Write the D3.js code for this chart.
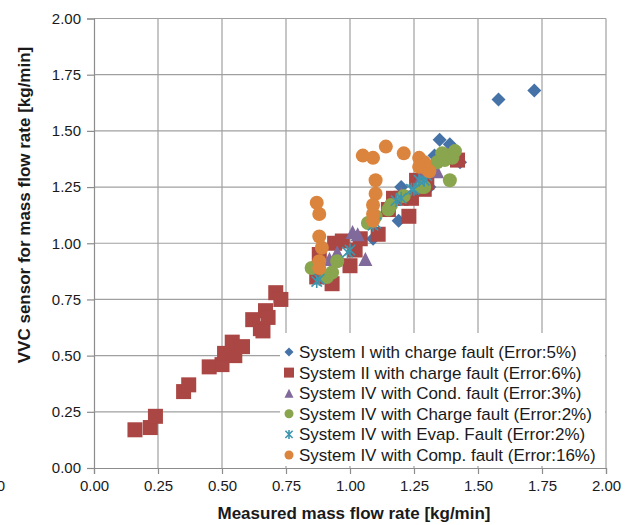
<!DOCTYPE html>
<html>
<head>
<meta charset="utf-8">
<script src="https://cdn.jsdelivr.net/npm/d3@7"></script>
<style>
  body { margin: 0; background: #fff; }
  svg { display: block; font-family: "Liberation Sans", Arial, sans-serif; }
</style>
</head>
<body>
<div id="chart"></div>
<script>
// values, [measured, vvc] in kg/min
const sys1Charge = [
  [0.87, 0.86], [1.09, 1.02], [1.19, 1.10], [1.20, 1.25], [1.31, 1.25], [1.28, 1.33],
  [1.33, 1.39], [1.35, 1.46], [1.39, 1.44], [1.40, 1.41], [1.43, 1.36], [1.37, 1.38],
  [1.58, 1.64], [1.72, 1.68]
];
const sys2Charge = [
  [0.16, 0.17], [0.22, 0.18], [0.24, 0.23], [0.35, 0.34], [0.37, 0.37], [0.45, 0.45],
  [0.50, 0.46], [0.51, 0.51], [0.54, 0.56], [0.55, 0.50], [0.58, 0.54], [0.62, 0.66],
  [0.65, 0.62], [0.66, 0.61], [0.67, 0.70], [0.68, 0.67], [0.71, 0.78], [0.73, 0.75],
  [0.87, 0.85], [0.88, 0.95], [0.93, 0.82], [0.94, 1.00], [0.97, 1.01], [1.00, 0.90],
  [1.02, 0.97], [1.04, 1.02], [1.11, 1.04], [1.15, 1.15], [1.17, 1.20], [1.20, 1.20],
  [1.23, 1.12], [1.24, 1.20], [1.26, 1.28], [1.29, 1.24], [1.30, 1.27], [1.42, 1.37]
];
const sys4Cond = [
  [0.92, 0.93], [0.95, 0.96], [1.01, 1.05], [1.03, 1.04], [1.06, 0.93],
  [1.20, 1.22], [1.28, 1.30], [1.34, 1.32], [1.38, 1.40]
];
const sys4ChargeIV = [
  [0.85, 0.89], [0.91, 0.85], [0.93, 0.87], [0.95, 0.92], [1.07, 1.09], [1.10, 1.12],
  [1.15, 1.15], [1.16, 1.17], [1.21, 1.21], [1.28, 1.25], [1.29, 1.25], [1.34, 1.36],
  [1.36, 1.40], [1.37, 1.37], [1.38, 1.39], [1.40, 1.38], [1.41, 1.41], [1.39, 1.28]
];
const sys4Evap = [
  [0.87, 0.83], [0.88, 0.84], [0.99, 0.96], [1.00, 0.97], [1.09, 1.08], [1.10, 1.09],
  [1.18, 1.19], [1.20, 1.20], [1.24, 1.24], [1.25, 1.24], [1.27, 1.28], [1.29, 1.28],
  [1.30, 1.30]
];
const sys4Comp = [
  [0.87, 1.18], [0.88, 1.13], [0.88, 1.03], [0.89, 0.98], [0.88, 0.92], [0.88, 0.89],
  [1.05, 1.39], [1.09, 1.38], [1.14, 1.43], [1.21, 1.40], [1.27, 1.38], [1.29, 1.36],
  [1.30, 1.33], [1.31, 1.32], [1.27, 1.34], [1.10, 1.28], [1.10, 1.22], [1.09, 1.17],
  [1.09, 1.13], [1.09, 1.10]
];
const seriesNames = [
  'System I with charge fault (Error:5%)',
  'System II with charge fault (Error:6%)',
  'System IV with Cond. fault (Error:3%)',
  'System IV with Charge fault (Error:2%)',
  'System IV with Evap. Fault (Error:2%)',
  'System IV with Comp. fault (Error:16%)'
];
const tickValues = [0, 0.25, 0.5, 0.75, 1, 1.25, 1.5, 1.75, 2];

const seriesData = [sys1Charge, sys2Charge, sys4Cond, sys4ChargeIV, sys4Evap, sys4Comp];
const colors = ['#4572A7', '#AA4643', '#80699B', '#89A54E', '#3D96AE', '#DB843D'];
const shapes = ['diamond', 'square', 'triangle', 'circle', 'star', 'circle'];

const W = 634, H = 525;
const margin = { top: 18.5, right: 28, bottom: 57, left: 94 };
const width = W - margin.left - margin.right;
const height = H - margin.top - margin.bottom;

const svg = d3.select('#chart').append('svg')
  .attr('width', W).attr('height', H);
svg.append('rect').attr('width', W).attr('height', H).attr('fill', '#fff');

const g = svg.append('g').attr('transform', `translate(${margin.left},${margin.top})`);

const x = d3.scaleLinear().domain([0, 2]).range([0, width]);
const y = d3.scaleLinear().domain([0, 2]).range([height, 0]);

// grid
g.append('g').selectAll('line').data(tickValues.slice(1)).enter().append('line')
  .attr('x1', d => x(d)).attr('x2', d => x(d))
  .attr('y1', 0).attr('y2', height)
  .attr('stroke', '#a0a0a0').attr('stroke-width', 1.2);
g.append('g').selectAll('line').data(tickValues.slice(1)).enter().append('line')
  .attr('x1', 0).attr('x2', width)
  .attr('y1', d => y(d)).attr('y2', d => y(d))
  .attr('stroke', '#a0a0a0').attr('stroke-width', 1.2);

// axes
const fmt = d3.format('.2f');
const xAxis = g.append('g').attr('transform', `translate(0,${height})`)
  .call(d3.axisBottom(x).tickValues(tickValues).tickFormat(fmt).tickSize(6).tickPadding(6));
const yAxis = g.append('g')
  .call(d3.axisLeft(y).tickValues(tickValues).tickFormat(fmt).tickSize(7).tickPadding(6));
[xAxis, yAxis].forEach(a => {
  a.select('.domain').attr('stroke', '#8c8c8c').attr('stroke-width', 1.2);
  a.selectAll('.tick line').attr('stroke', '#8c8c8c').attr('stroke-width', 1.2);
  a.selectAll('.tick text').attr('fill', '#1a1a1a').style('font-size', '15px');
});

svg.append('text')
  .attr('x', 354).attr('y', 519)
  .attr('text-anchor', 'middle')
  .style('font-size', '17px').style('font-weight', 'bold').attr('fill', '#1a1a1a')
  .text('Measured mass flow rate [kg/min]');

svg.append('text')
  .attr('transform', `translate(30,205) rotate(-90)`)
  .attr('text-anchor', 'middle')
  .style('font-size', '17px').style('font-weight', 'bold').attr('fill', '#1a1a1a')
  .text('VVC sensor for mass flow rate  [kg/min]');

// clipped label from neighbouring figure
svg.append('text').attr('x', 5).attr('y', 491)
  .attr('text-anchor', 'end').style('font-size', '15px').attr('fill', '#1a1a1a').text('0');

// marker drawing
function marker(sel, shape, size, color) {
  const s = size;
  if (shape === 'circle') {
    sel.append('circle').attr('r', s / 2).attr('fill', color);
  } else if (shape === 'square') {
    sel.append('rect').attr('x', -s / 2).attr('y', -s / 2).attr('width', s).attr('height', s).attr('fill', color);
  } else if (shape === 'diamond') {
    const h = s / 2;
    sel.append('path').attr('d', `M0,${-h}L${h},0L0,${h}L${-h},0Z`).attr('fill', color);
  } else if (shape === 'triangle') {
    const h = s / 2;
    sel.append('path').attr('d', `M0,${-h}L${h},${h}L${-h},${h}Z`).attr('fill', color);
  } else if (shape === 'star') {
    const h = s / 2;
    sel.append('path')
      .attr('d', `M0,${-h}L0,${h}M${-h * 0.8},${-h * 0.8}L${h * 0.8},${h * 0.8}M${-h * 0.8},${h * 0.8}L${h * 0.8},${-h * 0.8}`)
      .attr('stroke', color).attr('stroke-width', 1.6).attr('fill', 'none');
  }
}

const plotSizes = { diamond: 14, square: 15, triangle: 14, circle: 14, star: 13 };

seriesData.forEach((data, i) => {
  g.append('g').selectAll('g').data(data).enter().append('g')
    .attr('transform', d => `translate(${x(d[0])},${y(d[1])})`)
    .each(function () { marker(d3.select(this), shapes[i], plotSizes[shapes[i]], colors[i]); });
});

// legend
const legend = svg.append('g');
legend.append('rect')
  .attr('x', 280).attr('y', 333).attr('width', 325).attr('height', 133)
  .attr('fill', '#fff');
seriesNames.forEach((name, i) => {
  const cy = 352 + i * 20.6;
  const m = legend.append('g').attr('transform', `translate(289,${cy})`);
  marker(m, shapes[i], shapes[i] === 'square' ? 10 : 9, colors[i]);
  legend.append('text')
    .attr('x', 299).attr('y', cy + 6)
    .style('font-size', '17px').attr('fill', '#1a1a1a')
    .text(name);
});
</script>
</body>
</html>
